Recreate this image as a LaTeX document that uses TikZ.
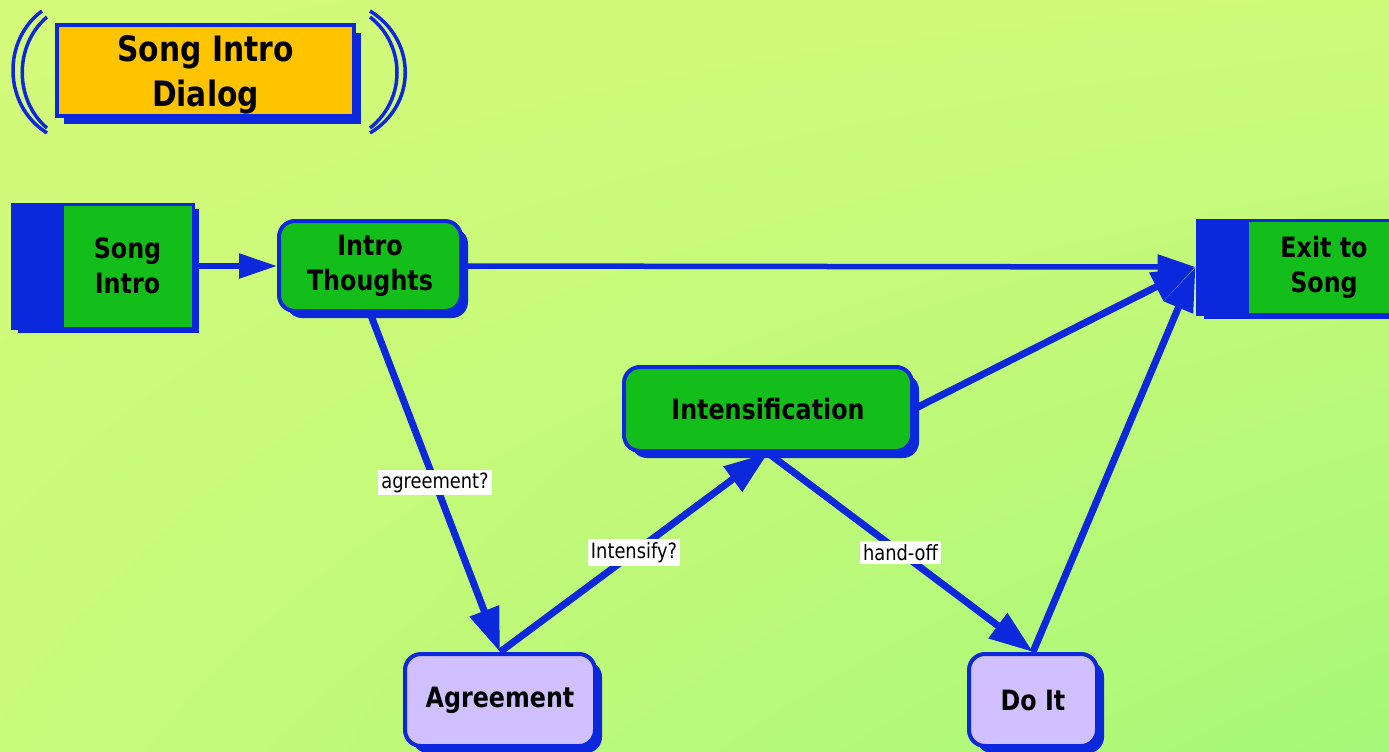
\documentclass[tikz,border=0pt]{standalone}
\usepackage{fontspec}
\setmainfont{DejaVu Sans}[FakeStretch=0.85]
\usetikzlibrary{arrows.meta,shadows,calc,shadings}
\definecolor{flowblue}{RGB}{12,40,220}
\definecolor{stategreen}{RGB}{20,190,26}
\definecolor{titleorange}{RGB}{255,196,0}
\definecolor{choicelav}{RGB}{208,192,255}
\definecolor{bgul}{RGB}{212,250,122}
\definecolor{bgur}{RGB}{206,250,122}
\definecolor{bgll}{RGB}{200,250,122}
\definecolor{bglr}{RGB}{166,248,120}
\begin{document}
\begin{tikzpicture}[x=1pt,y=-1pt,
  blueshadow/.style={drop shadow={shadow xshift=7pt,shadow yshift=-7pt,fill=flowblue,opacity=1}},
  statebox/.style={draw=flowblue,line width=4pt,rounded corners=16pt,fill=stategreen,
    align=center,inner sep=0pt,font=\bfseries\fontsize{28}{35}\selectfont,blueshadow},
  choicebox/.style={statebox,fill=choicelav},
  portbox/.style={draw=flowblue,line width=3pt,fill=stategreen,align=center,inner sep=0pt,
    font=\bfseries\fontsize{28}{35}\selectfont},
  flow/.style={draw=flowblue,line width=7pt,-{Triangle[length=44pt,width=30pt]}},
  hflow/.style={draw=flowblue,line width=5.5pt,-{Triangle[length=38pt,width=24pt]}},
  tag/.style={fill=white,inner sep=3pt,font=\fontsize{21}{25}\selectfont},
  bracket/.style={draw=flowblue,line width=3.5pt}]

% page and background
\useasboundingbox (0,0) rectangle (1389,752);
\shade[upper left=bgul,upper right=bgur,lower left=bgll,lower right=bglr] (0,0) rectangle (1389,752);

% title with its double brackets
\node[draw=flowblue,line width=4pt,fill=titleorange,minimum width=297pt,minimum height=91pt,
  inner sep=0pt,font=\bfseries\fontsize{35}{45}\selectfont,
  drop shadow={shadow xshift=7pt,shadow yshift=-8pt,fill=flowblue,opacity=1}]
  (title) at (205.5,70.5)
  {\raisebox{-5pt}[\height][\depth]{\begin{tabular}{@{}c@{}}Song Intro\\Dialog\end{tabular}}};
\draw[bracket] (42,11) .. controls (2.5,40) and (2.5,105) .. (47,133);
\draw[bracket] (47,17) .. controls (14,45) and (14,100) .. (47,128);
\draw[bracket] (370,11) .. controls (417,40) and (417,105) .. (370,133);
\draw[bracket] (370,17) .. controls (406,45) and (406,100) .. (370,128);

% entry port
\fill[flowblue] (18,209) rectangle (199,333);
\node[portbox,minimum width=131pt,minimum height=124pt] (songintro) at (127.5,266) {Song\\Intro};
\fill[flowblue] ($(songintro.north west)+(-50,0)$) rectangle (songintro.south west);

% exit port
\fill[flowblue] (1204,225) rectangle (1410,319);
\node[portbox,minimum width=154pt,minimum height=94pt] (exitsong) at (1324,267) {Exit to\\Song};
\fill[flowblue] ($(exitsong.north west)+(-50,0)$) rectangle (exitsong.south west);
\coordinate (exitport) at ($(exitsong.west)+(-50,0)$);

% states
\node[statebox,minimum width=182pt,minimum height=90pt] (introthoughts) at (370,266) {Intro\\Thoughts};
\node[statebox,minimum width=288pt,minimum height=84pt] (intensification) at (768,409) {Intensification};
\node[choicebox,minimum width=190pt,minimum height=92pt] (agreement) at (500,700) {Agreement};
\node[choicebox,minimum width=128pt,minimum height=92pt] (doit) at (1033,700) {Do It};

% transitions
\draw[hflow] (songintro.east) -- (introthoughts.west);
\draw[hflow] (introthoughts.east) -- (exitport);
\draw[flow] (introthoughts.south) -- node[tag] (lblagree) {agreement?} (agreement.north);
\draw[flow] (agreement.north) -- node[tag] (lblintens) {Intensify?} (intensification.south);
\draw[flow] (intensification.south) -- node[tag] (lblhand) {hand-off} (doit.north);
\draw[flow] (intensification.east) -- (exitport);
\draw[flow] (doit.north) -- (exitport);
\end{tikzpicture}
\end{document}
